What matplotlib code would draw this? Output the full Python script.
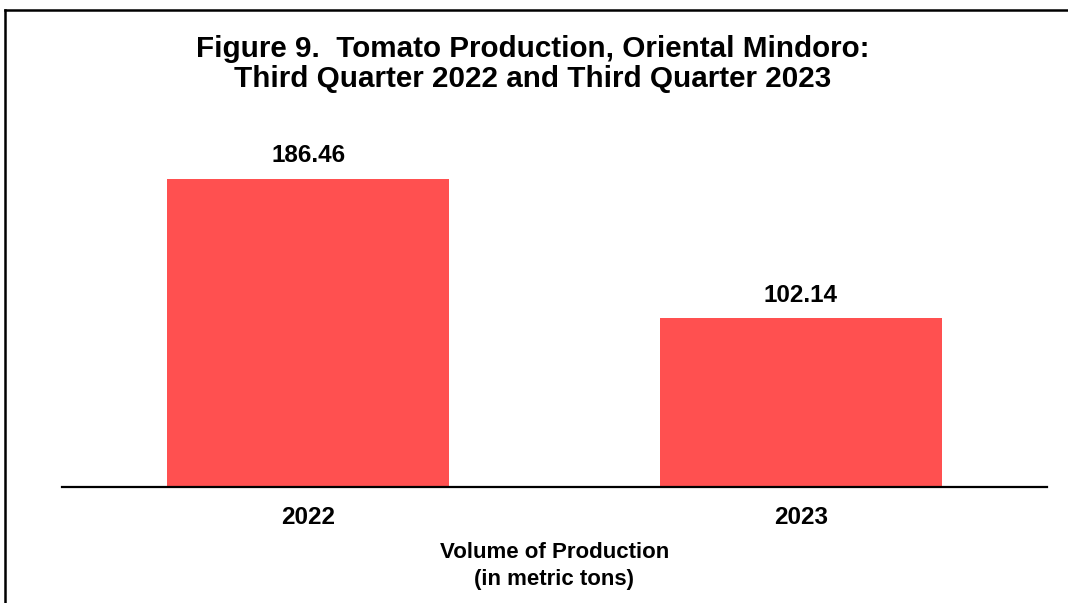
import matplotlib.pyplot as plt
from matplotlib.lines import Line2D

# data
years = ["2022", "2023"]
production = [186.46, 102.14]

plt.rcParams['font.family'] = ['Liberation Sans', 'DejaVu Sans']

fig = plt.figure(figsize=(10.68, 6.03), dpi=100)
W, H = 1068, 603

# axes placed so that the baseline sits near pixel row 487
ax = fig.add_axes([62 / W, (H - 487) / H, (1047 - 62) / W, (487 - 150) / H])

x_pos = list(range(len(years)))
bars = ax.bar(x_pos, production, width=0.573, color="#FF5050")

ax.set_xlim(-0.5, 1.5)
ax.set_ylim(0, (487 - 150) / (308 / 186.46))

for rect, val in zip(bars, production):
    ax.annotate(f"{val:.2f}", (rect.get_x() + rect.get_width() / 2, val),
                xytext=(0, 12), textcoords="offset points",
                ha="center", va="baseline", fontsize=17.5, fontweight="bold")

ax.set_xticks(x_pos)
ax.set_xticklabels(years, fontsize=17.5, fontweight="bold")
ax.tick_params(axis="x", length=0, pad=14)
ax.set_yticks([])
for side in ["top", "left", "right"]:
    ax.spines[side].set_visible(False)
ax.spines["bottom"].set_linewidth(1.6)
ax.set_xlabel("Volume of Production\n(in metric tons)", fontsize=16,
              fontweight="bold", labelpad=9, linespacing=1.35)

fig.text(0.499, 1 - 64 / H,
         "Figure 9.  Tomato Production, Oriental Mindoro:\n"
         "Third Quarter 2022 and Third Quarter 2023",
         ha="center", va="center", fontsize=21.3, fontweight="bold",
         linespacing=1.1)

# outer frame (only top and left edges visible)
fig.add_artist(Line2D([5.5 / W, 5.5 / W], [0, 1 - 10 / H], transform=fig.transFigure,
                      color="black", linewidth=1.8))
fig.add_artist(Line2D([5.5 / W, 1], [1 - 10 / H, 1 - 10 / H], transform=fig.transFigure,
                      color="black", linewidth=1.8))

fig.savefig("out.png", dpi=100)
